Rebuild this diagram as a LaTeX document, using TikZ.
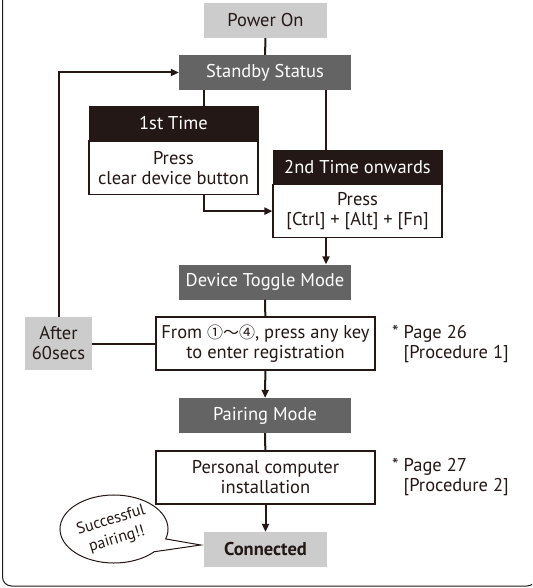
\documentclass[tikz,border=0pt]{standalone}
\usepackage{fontspec}
\setmainfont{PT Sans}
\newfontfamily\symfont{Noto Sans CJK JP}
\usetikzlibrary{arrows.meta,calc,positioning,shapes.geometric}
\definecolor{PairInk}{HTML}{231815}
\definecolor{PairDark}{HTML}{646464}
\definecolor{PairLight}{HTML}{CCCCCC}
\tikzset{
  pair state/.style={
    fill=PairDark,
    text=white,
    align=center,
    minimum width=172pt,
    minimum height=35pt,
    inner sep=0pt,
    font=\fontsize{18.5}{20}\selectfont
  },
  pair terminal/.style={
    fill=PairLight,
    text=PairInk,
    align=center,
    minimum width=123pt,
    minimum height=35pt,
    inner sep=0pt,
    font=\fontsize{18.5}{20}\selectfont
  },
  pair header/.style={
    draw=PairInk,
    fill=PairInk,
    text=white,
    align=center,
    minimum width=169pt,
    minimum height=33pt,
    inner sep=0pt,
    line width=1pt,
    font=\fontsize{18.5}{20}\selectfont
  },
  pair action/.style={
    draw=PairInk,
    fill=white,
    text=PairInk,
    align=center,
    minimum width=169pt,
    minimum height=53pt,
    inner sep=0pt,
    line width=1.2pt,
    font=\fontsize{18.5}{20}\selectfont
  },
  pair note/.style={
    text=PairInk,
    align=left,
    anchor=west,
    inner sep=0pt,
    font=\fontsize{18.5}{20}\selectfont
  },
  pair flow/.style={-{Triangle[length=8pt,width=7pt]},draw=PairInk,line width=2pt},
  pair link/.style={draw=PairInk,line width=2pt},
  pair bubble/.style={draw=PairInk,fill=white,line width=1pt}
}

\begin{document}
\begin{tikzpicture}[x=1pt,y=1pt]
  \useasboundingbox (0,0) rectangle (532,-588);
  \clip (0,0) rectangle (532,-588);
  \draw[PairInk,line width=1pt,rounded corners=9pt] (2.5,30) -- (2.5,-586) -- (536,-586) -- (536,30);

  \node[pair terminal] (power) at (265.5,-20.5) {Power On};
  \node[pair state] (standby) at (265,-72.5) {Standby Status};
  \node[pair header] (first) at (173.5,-123.5) {1st Time};
  \node[pair action,below=0pt of first] (firstbody) {Press\\clear device button};
  \node[pair header] (second) at (357.5,-167) {2nd Time onwards};
  \node[pair action,below=0pt of second] (secondbody) {Press\\{[}Ctrl] + [Alt] + [Fn]};
  \node[pair state] (toggle) at (265,-282) {Device Toggle Mode};
  \node[pair action,minimum width=219pt] (choose) at (265.5,-343.5) {From {\symfont\fontsize{16}{20}\selectfont ①～④}, press any key\\to enter registration};
  \node[pair terminal,minimum width=67pt,minimum height=53pt] (timeout) at (58.5,-343.5) {After\\60secs};
  \node[pair note] (noteA) at (392,-344) {*\ Page 26\\\phantom{*\ }[Procedure 1]};
  \node[pair state] (pairing) at (265,-415.5) {Pairing Mode};
  \node[pair action,minimum width=219pt] (install) at (265.5,-477.5) {Personal computer\\installation};
  \node[pair note] (noteB) at (392,-477) {*\ Page 27\\\phantom{*\ }[Procedure 2]};
  \node[pair terminal,font=\fontsize{18.5}{20}\selectfont\bfseries] (connected) at (265.5,-549.5) {Connected};

  \draw[pair link] (power) -- (standby);
  \draw[pair link] ([xshift=30.5pt]first.north) -- ([xshift=30.5pt]first.north |- standby.south);
  \draw[pair link] ([xshift=-31.5pt]second.north) -- ([xshift=-31.5pt]second.north |- standby.south);
  \draw[pair flow] ([xshift=30.5pt]firstbody.south) |- (secondbody.west);
  \draw[pair flow] ([xshift=-31.5pt]secondbody.south) -- ([xshift=-31.5pt]secondbody.south |- toggle.north);
  \draw[pair link] (toggle) -- (choose);
  \draw[pair link] (choose) -- (timeout);
  \draw[pair flow] (timeout.north) |- (standby.west);
  \draw[pair flow] (choose) -- (pairing);
  \draw[pair link] (pairing) -- (install);
  \draw[pair flow] (install) -- (connected);

  % speech bubble
  \coordinate (tip) at ([xshift=-3pt,yshift=4.5pt]connected.west);
  \draw[pair bubble,shift={(114,-529)}]
    ({54*cos(-17)},{34*sin(-17)}) arc[start angle=-17,end angle=318,x radius=54,y radius=34] -- (tip) -- cycle;
  \node[text=PairInk,align=center,rotate=17,inner sep=0pt,font=\fontsize{16}{20}\selectfont] (cheer) at (114,-530) {Successful\\pairing!!};
\end{tikzpicture}
\end{document}
